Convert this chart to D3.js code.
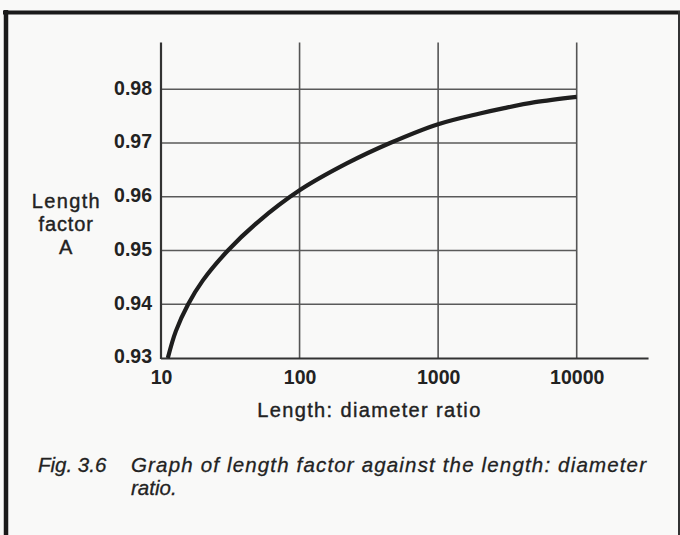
<!DOCTYPE html>
<html>
<head>
<meta charset="utf-8">
<script src="https://cdn.jsdelivr.net/npm/d3@7"></script>
<style>
  html, body { margin: 0; padding: 0; background: #f9f9f8; }
  svg { display: block; }
  text { font-family: "Liberation Sans", Arial, Helvetica, sans-serif; fill: #222; }
</style>
</head>
<body>
<svg id="chart" width="680" height="535"></svg>
<script>
// ---- data ----
const ratio = [11.2, 12.8, 15.7, 20, 30.4, 50, 100, 219, 450, 1000, 2000, 3000, 5000, 10000];
const lengthFactor = [0.930, 0.935, 0.940, 0.9444, 0.950, 0.9553, 0.9612, 0.9662, 0.970, 0.9735, 0.9755, 0.9765, 0.9776, 0.9786];
const xTicks = [10, 100, 1000, 10000];
const yTicks = [0.93, 0.94, 0.95, 0.96, 0.97, 0.98];
const xAxisEnd = 33000;
const yTop = 0.9887;
const yLabelLines = ["Length", "factor", "A"];
const xTitle = "Length: diameter ratio";
const captionNum = "Fig. 3.6";
const captionLines = ["Graph of length factor against the length: diameter", "ratio."];

// ---- scales ----
const svg = d3.select("#chart");
const x = d3.scaleLog().domain([10, 10000]).range([161, 576.7]);
const y = d3.scaleLinear().domain([0.93, 0.98]).range([358, 89.3]);

// frame
svg.append("line").attr("x1", 3).attr("x2", 680).attr("y1", 12.5).attr("y2", 12.5)
  .attr("stroke", "#1a1a1a").attr("stroke-width", 4);
svg.append("line").attr("x1", 6).attr("x2", 6).attr("y1", 10).attr("y2", 535)
  .attr("stroke", "#1a1a1a").attr("stroke-width", 4.5);
svg.append("line").attr("x1", 679).attr("x2", 679).attr("y1", 11).attr("y2", 535)
  .attr("stroke", "#333").attr("stroke-width", 2);

const g = svg.append("g");

// horizontal gridlines
g.selectAll("line.hgrid").data(yTicks.slice(1)).join("line")
  .attr("class", "hgrid")
  .attr("x1", x(10)).attr("x2", x(10000))
  .attr("y1", d => y(d)).attr("y2", d => y(d))
  .attr("stroke", "#5a5a5a").attr("stroke-width", 1.5);

// vertical gridlines
g.selectAll("line.vgrid").data(xTicks.slice(1)).join("line")
  .attr("class", "vgrid")
  .attr("x1", d => x(d)).attr("x2", d => x(d))
  .attr("y1", y(yTop)).attr("y2", y(0.93))
  .attr("stroke", "#555").attr("stroke-width", 1.6);

// y axis line
g.append("line").attr("x1", x(10)).attr("x2", x(10))
  .attr("y1", y(yTop)).attr("y2", y(0.93) + 1)
  .attr("stroke", "#333").attr("stroke-width", 2.2);
// x axis line
g.append("line").attr("x1", x(10)).attr("x2", x(xAxisEnd))
  .attr("y1", y(0.93) + 0.5).attr("y2", y(0.93) + 0.5)
  .attr("stroke", "#333").attr("stroke-width", 2.2);

// axes (labels only)
const yAxis = g.append("g").attr("transform", `translate(${x(10)},0)`)
  .call(d3.axisLeft(y).tickValues(yTicks).tickFormat(d3.format(".2f")).tickSize(0).tickPadding(9));
yAxis.select(".domain").remove();
yAxis.selectAll("text").attr("dy", 4.8)
  .style("font-size", "19.5px").style("font-weight", "bold").attr("fill", "#222");

const xAxis = g.append("g").attr("transform", `translate(0,${y(0.93)})`)
  .call(d3.axisBottom(x).tickValues(xTicks).tickFormat(d3.format("d")).tickSize(0));
xAxis.select(".domain").remove();
xAxis.selectAll("text").attr("y", 26).attr("dy", 0)
  .style("font-size", "19.5px").style("font-weight", "bold").attr("fill", "#222");

// curve
const line = d3.line().x((d, i) => x(ratio[i])).y(d => y(d)).curve(d3.curveCatmullRom.alpha(0.5));
g.append("path").datum(lengthFactor).attr("d", line)
  .attr("fill", "none").attr("stroke", "#1e1e1e").attr("stroke-width", 4.2)
  .attr("stroke-linecap", "butt");

// axis titles
svg.append("text").attr("x", 257.3).attr("y", 416.7).text(xTitle)
  .attr("textLength", 223).style("font-size", "20px")
  .attr("stroke", "#222").attr("stroke-width", 0.4);

const yLabelLens = [68, 54.4, null];
const yLabelBase = [208.3, 230.9, 254];
yLabelLines.forEach((t, i) => {
  const tx = svg.append("text").attr("x", 65.7).attr("y", yLabelBase[i])
    .attr("text-anchor", "middle").text(t).style("font-size", "20px")
    .attr("stroke", "#222").attr("stroke-width", 0.4);
  if (yLabelLens[i]) tx.attr("textLength", yLabelLens[i]);
});

// caption
const capStyle = sel => sel.style("font-size", "20.5px").style("font-style", "italic")
  .attr("stroke", "#222").attr("stroke-width", 0.3);
svg.append("text").attr("x", 38).attr("y", 472).text(captionNum).call(capStyle);
svg.append("text").attr("x", 131).attr("y", 472).text(captionLines[0])
  .attr("textLength", 515).call(capStyle);
svg.append("text").attr("x", 131).attr("y", 495).text(captionLines[1]).call(capStyle);
</script>
</body>
</html>
